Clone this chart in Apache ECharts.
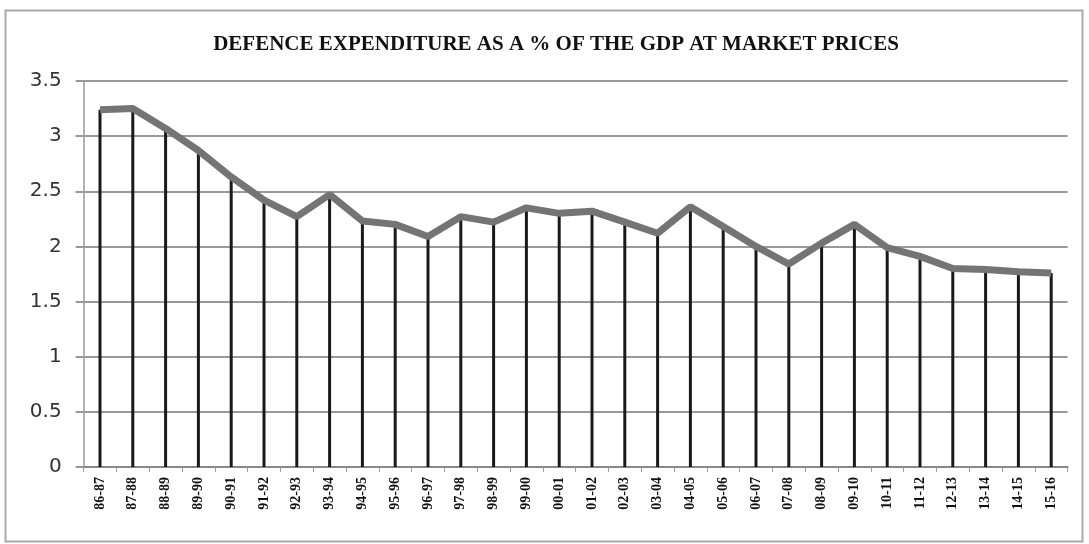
<!DOCTYPE html>
<html><head><meta charset="utf-8">
<script src="https://cdn.jsdelivr.net/npm/echarts@6/dist/echarts.min.js"></script>
<style>html,body{margin:0;padding:0;background:#fff}#c{width:1089px;height:544px}</style>
</head><body><div id="c"></div>
<script>
const categories = ['86-87','87-88','88-89','89-90','90-91','91-92','92-93','93-94','94-95','95-96','96-97','97-98','98-99','99-00','00-01','01-02','02-03','03-04','04-05','05-06','06-07','07-08','08-09','09-10','10-11','11-12','12-13','13-14','14-15','15-16'];
const values = [3.24,3.25,3.07,2.87,2.63,2.42,2.27,2.47,2.23,2.20,2.09,2.27,2.22,2.35,2.30,2.32,2.22,2.12,2.36,2.18,2.00,1.84,2.03,2.20,1.99,1.91,1.80,1.79,1.77,1.76];
const yTicks = [0,0.5,1,1.5,2,2.5,3,3.5];
const titleText = 'DEFENCE EXPENDITURE AS A % OF THE GDP AT MARKET PRICES';

const chart = echarts.init(document.getElementById('c'));
chart.setOption({
  animation: false,
  backgroundColor: '#fff',
  title: {
    text: titleText, left: 551, top: 29, textAlign: 'center',
    textStyle: {fontFamily: 'Liberation Serif', fontWeight: 'bold', fontSize: 21, color: '#111'}
  },
  graphic: [{type:'rect', shape:{x:5.5,y:10.5,width:1077,height:531}, style:{fill:null, stroke:'#aaa', lineWidth:2}, silent:true}],
  grid: {left: 83.6, right: 21.4, top: 81, bottom: 77},
  xAxis: {
    type: 'category', data: categories, boundaryGap: true,
    axisLine: {lineStyle: {color: '#888', width: 2}},
    axisTick: {show: true, alignWithLabel: false, length: 5, lineStyle: {color: '#999', width: 1}},
    axisLabel: {rotate: 90, fontFamily: 'Liberation Serif', fontWeight: 'bold', fontSize: 14, color: '#111', margin: 10, interval: 0}
  },
  yAxis: {
    type: 'value', min: yTicks[0], max: yTicks[yTicks.length-1], interval: 0.5,
    axisLine: {show: true, lineStyle: {color: '#999', width: 1.5}},
    axisTick: {show: true, length: 8, lineStyle: {color: '#999', width: 2}},
    axisLabel: {fontFamily: 'DejaVu Sans', fontSize: 20, color: '#333', margin: 22},
    splitLine: {lineStyle: {color: '#999', width: 2}}
  },
  series: [
    {type: 'bar', data: values, barWidth: 3, itemStyle: {color: '#1a1a1a'}, z: 2},
    {type: 'line', data: values, symbol: 'none', lineStyle: {color: '#747474', width: 7}, z: 3}
  ]
});
</script></body></html>
